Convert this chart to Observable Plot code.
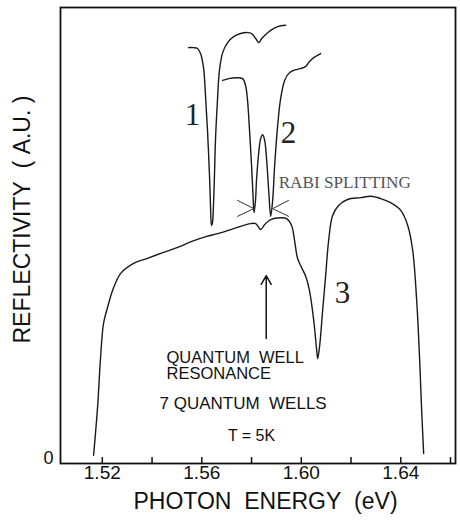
<!DOCTYPE html>
<html><head><meta charset="utf-8">
<script src="https://cdn.jsdelivr.net/npm/d3@7"></script>
<script src="https://cdn.jsdelivr.net/npm/@observablehq/plot@0.6"></script>
<style>body{margin:0;background:#fff}</style>
</head><body><div id="chart"></div>
<script>
// Curve 1
const energy1 = [1.5547,1.5567,1.5583,1.5595,1.5607,1.5615,1.5623,1.5631,1.5635,1.5639,1.5643,1.5647,1.5651,1.5655,1.5663,1.5671,1.5684,1.5704,1.5728,1.5756,1.5784,1.5800,1.5817,1.5829,1.5841,1.5857,1.5877,1.5905,1.5937];
const refl1   = [91.2,91.2,91.0,89.9,86.8,80.7,73.0,63.2,56.6,52.2,52.9,56.6,63.2,70.8,79.6,86.2,90.1,92.3,93.6,94.3,94.5,94.3,93.2,92.3,93.2,94.1,95.0,95.8,96.1];
// Curve 2
const energy2 = [1.5684,1.5708,1.5740,1.5764,1.5776,1.5784,1.5792,1.5800,1.5806,1.5810,1.5816,1.5820,1.5829,1.5837,1.5845,1.5853,1.5861,1.5869,1.5877,1.5885,1.5893,1.5905,1.5917,1.5933,1.5949,1.5969,1.5997,1.6018,1.6034,1.6050,1.6078];
const refl2   = [84.0,84.4,84.6,84.4,82.9,79.6,73.0,65.4,58.8,55.0,57.7,62.1,68.2,71.3,72.1,70.8,66.4,59.9,54.2,57.7,65.4,74.1,80.0,84.0,85.5,86.2,86.6,87.1,88.2,89.0,89.9];
// Curve 3
const energy3 = [1.5165,1.5181,1.5193,1.5205,1.5221,1.5241,1.5274,1.5326,1.5382,1.5446,1.5503,1.5560,1.5620,1.5664,1.5728,1.5796,1.5817,1.5837,1.5853,1.5877,1.5917,1.5941,1.5961,1.5973,1.5985,1.6001,1.6018,1.6033,1.6050,1.6062,1.6066,1.6074,1.6086,1.6098,1.6110,1.6126,1.6150,1.6186,1.6239,1.6279,1.6319,1.6359,1.6400,1.6428,1.6448,1.6464,1.6476,1.6484,1.6492];
const refl3   = [1.8,12.3,23.2,30.7,34.2,37.9,41.7,43.9,45.0,46.3,47.4,48.7,49.8,50.4,51.5,52.6,52.6,51.3,52.4,53.5,53.9,53.7,52.2,48.9,45.0,43.0,41.0,37.9,31.4,24.8,23.0,25.9,33.6,41.2,48.9,54.4,56.6,57.9,58.3,58.6,58.1,57.2,55.5,52.2,46.7,35.7,22.6,11.6,2.2];

const majorTicks = [1.52, 1.56, 1.60, 1.64];
const allTicks = [1.52, 1.54, 1.56, 1.58, 1.60, 1.62, 1.64, 1.66];

const curveLabels = ["1", "2", "3"];
const curveLabelE = [1.5563, 1.5949, 1.6166];
const curveLabelR = [76.3, 72.4, 37.3];

// Rabi splitting chevrons (energy, reflectivity)
const chevronLeftE = [1.5744, 1.5809, 1.5744];
const chevronLeftR = [57.7, 55.9, 54.2];
const chevronRightE = [1.5949, 1.5885, 1.5949];
const chevronRightR = [57.7, 55.9, 54.2];

// Quantum well resonance arrow
const arrowE = 1.5859, arrowFrom = 27.4, arrowTo = 41.2;

const notes = ["QUANTUM\u00a0\u00a0WELL", "RESONANCE", "7 QUANTUM\u00a0\u00a0WELLS", "T = 5K"];
const notesE = [1.5458, 1.5458, 1.5430, 1.5705];
const notesR = [23.2, 19.6, 13.2, 6.1];
const notesSize = [16.5, 16.5, 17, 16];

// axis-title anchor positions (data units)
const yTitleE = 1.488, yTitleR = 53.5;

const mk = (E, R, id) => E.map((e, i) => ({e, r: R[i], id}));
const curves = [...mk(energy1, refl1, 1), ...mk(energy2, refl2, 2), ...mk(energy3, refl3, 3)];
const noteData = notes.map((t, i) => ({t, e: notesE[i], r: notesR[i], s: notesSize[i]}));

const sans = "Liberation Sans, Arial, sans-serif";
const serif = "Liberation Serif, Times New Roman, serif";

const chart = Plot.plot({
  width: 460, height: 525,
  marginLeft: 60, marginRight: 5, marginTop: 7, marginBottom: 62,
  x: {domain: [1.5032, 1.662], axis: null},
  y: {domain: [0, 100], axis: null},
  style: {background: "#fff", overflow: "visible"},
  marks: [
    Plot.frame({stroke: "#111", strokeWidth: 1.8}),
    Plot.ruleX(allTicks, {x: d => d, y1: 0, y2: 1.3, stroke: "#111", strokeWidth: 1.5}),
    Plot.text(majorTicks, {x: d => d, frameAnchor: "bottom", dy: 15, text: d => d.toFixed(2), fontSize: 19, fontFamily: sans, fill: "#111"}),
    Plot.text(["0"], {frameAnchor: "bottom-left", dx: -12, dy: 0, textAnchor: "middle", fontSize: 18, fontFamily: sans, fill: "#111"}),
    Plot.text(["PHOTON\u00a0\u00a0ENERGY\u00a0\u00a0(eV)"], {frameAnchor: "bottom", dx: 7.5, dy: 45, fontSize: 23, fontFamily: sans, fill: "#111"}),
    Plot.text(["REFLECTIVITY\u00a0\u00a0(\u00a0A.U.\u00a0)"], {x: () => yTitleE, y: () => yTitleR, rotate: -90, fontSize: 23, fontFamily: sans, fill: "#111"}),
    Plot.line(curves, {x: "e", y: "r", z: "id", stroke: "#1a1a1a", strokeWidth: 1.4, curve: "catmull-rom"}),
    Plot.line(chevronLeftE.map((e, i) => ({e, r: chevronLeftR[i]})), {x: "e", y: "r", stroke: "#333", strokeWidth: 1}),
    Plot.line(chevronRightE.map((e, i) => ({e, r: chevronRightR[i]})), {x: "e", y: "r", stroke: "#333", strokeWidth: 1}),
    Plot.arrow([{e: arrowE, a: arrowFrom, b: arrowTo}], {x1: "e", x2: "e", y1: "a", y2: "b", stroke: "#111", strokeWidth: 1.5, headLength: 10}),
    Plot.text(curveLabels.map((t, i) => ({t, e: curveLabelE[i], r: curveLabelR[i]})), {x: "e", y: "r", text: "t", fontSize: 31, fontFamily: serif, fill: "#222"}),
    Plot.text(["RABI SPLITTING"], {x: () => 1.5909, y: () => 61.6, textAnchor: "start", fontSize: 17.2, fontFamily: serif, fill: "#555"}),
    Plot.text(noteData, {x: "e", y: "r", text: "t", fontSize: "s", textAnchor: "start", fontFamily: sans, fill: "#111"})
  ]
});
document.getElementById("chart").appendChild(chart);
</script></body></html>
